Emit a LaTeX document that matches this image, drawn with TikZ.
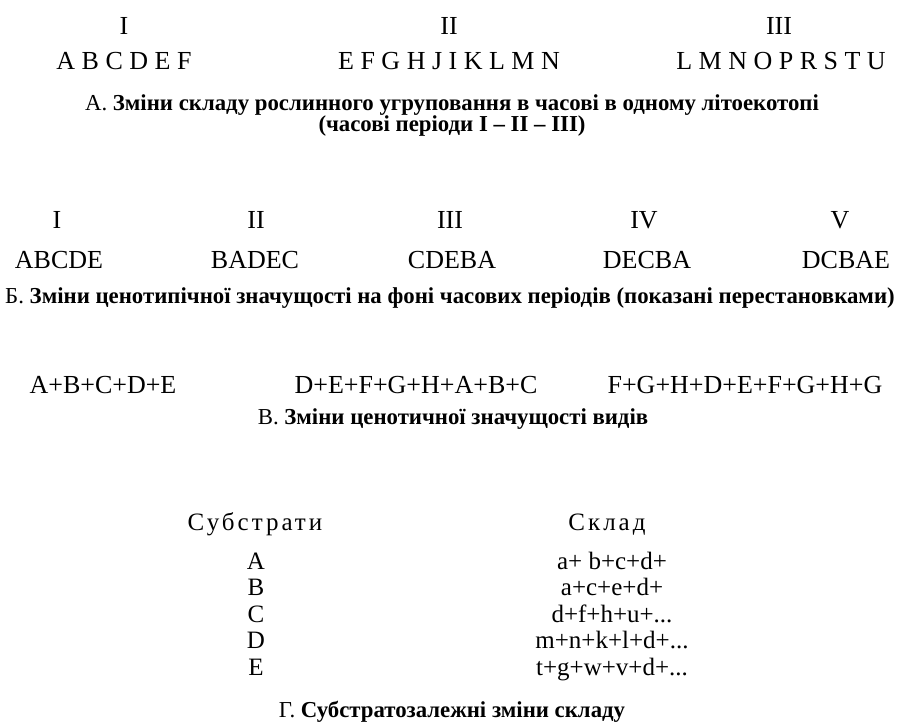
\documentclass[tikz,border=0pt]{standalone}
\usepackage{fontspec}
\setmainfont{Liberation Serif}
\newfontfamily\spacedfont[LetterSpace=12]{Liberation Serif}
\begin{document}
\begin{tikzpicture}[x=1pt,y=-1pt,
  lbl/.style={inner sep=0pt,anchor=base,font=\fontsize{26}{30}\selectfont},
  captext/.style={inner sep=0pt,anchor=base,font=\fontsize{22.8}{24}\selectfont},
  tbl/.style={inner sep=0pt,anchor=base,font=\fontsize{25}{28}\selectfont},
  hdr/.style={inner sep=0pt,anchor=base,font=\fontsize{25}{28}\spacedfont}]
\useasboundingbox (0,0) rectangle (908,724);

% A. periods I-III with species lists
\node[lbl] (a1) at (124,34) {I};
\node[lbl] (a2) at (449,34) {II};
\node[lbl] (a3) at (779,34) {III};
\node[lbl] (as1) at (124,69) {A B C D E F};
\node[lbl] (as2) at (449,69) {E F G H J I K L M N};
\node[lbl] (as3) at (781,69) {L M N O P R S T U};
\node[captext] (capA1) at (452,110) {А. \textbf{Зміни складу рослинного угруповання в часові в одному літоекотопі}};
\node[captext] (capA2) at (452,131) {\textbf{(часові періоди I – II – III)}};

% Б. permutations over five periods
\node[lbl] (b1) at (57,228) {I};
\node[lbl] (b2) at (256,228) {II};
\node[lbl] (b3) at (450,228) {III};
\node[lbl] (b4) at (644,228) {IV};
\node[lbl] (b5) at (840,228) {V};
\node[lbl] (bs1) at (59,268) {ABCDE};
\node[lbl] (bs2) at (255,268) {BADEC};
\node[lbl] (bs3) at (452,268) {CDEBA};
\node[lbl] (bs4) at (647,268) {DECBA};
\node[lbl] (bs5) at (846,268) {DCBAE};
\node[captext] (capB) at (450,303) {Б. \textbf{Зміни ценотипічної значущості на фоні часових періодів (показані перестановками)}};

% В. sums of species
\node[lbl] (v1) at (103,393) {A+B+C+D+E};
\node[lbl] (v2) at (416,393) {D+E+F+G+H+A+B+C};
\node[lbl] (v3) at (745,393) {F+G+H+D+E+F+G+H+G};
\node[captext] (capV) at (453,424) {В. \textbf{Зміни ценотичної значущості видів}};

% Г. substrate table
\node[hdr] (h1) at (255,530) {Субстрати};
\node[hdr] (h2) at (607,530) {Склад};
\node[tbl] (s1) at (256,569) {A};
\node[tbl] (s2) at (256,595.5) {B};
\node[tbl] (s3) at (256,622) {C};
\node[tbl] (s4) at (256,648.5) {D};
\node[tbl] (s5) at (256,675) {E};
\node[tbl] (c1) at (612,569) {a+ b+c+d+};
\node[tbl] (c2) at (612,595.5) {a+c+e+d+};
\node[tbl] (c3) at (612,622) {d+f+h+u+...};
\node[tbl] (c4) at (612,648.5) {m+n+k+l+d+...};
\node[tbl] (c5) at (612,675) {t+g+w+v+d+...};
\node[captext] (capG) at (452,717) {Г. \textbf{Субстратозалежні зміни складу}};
\end{tikzpicture}
\end{document}
